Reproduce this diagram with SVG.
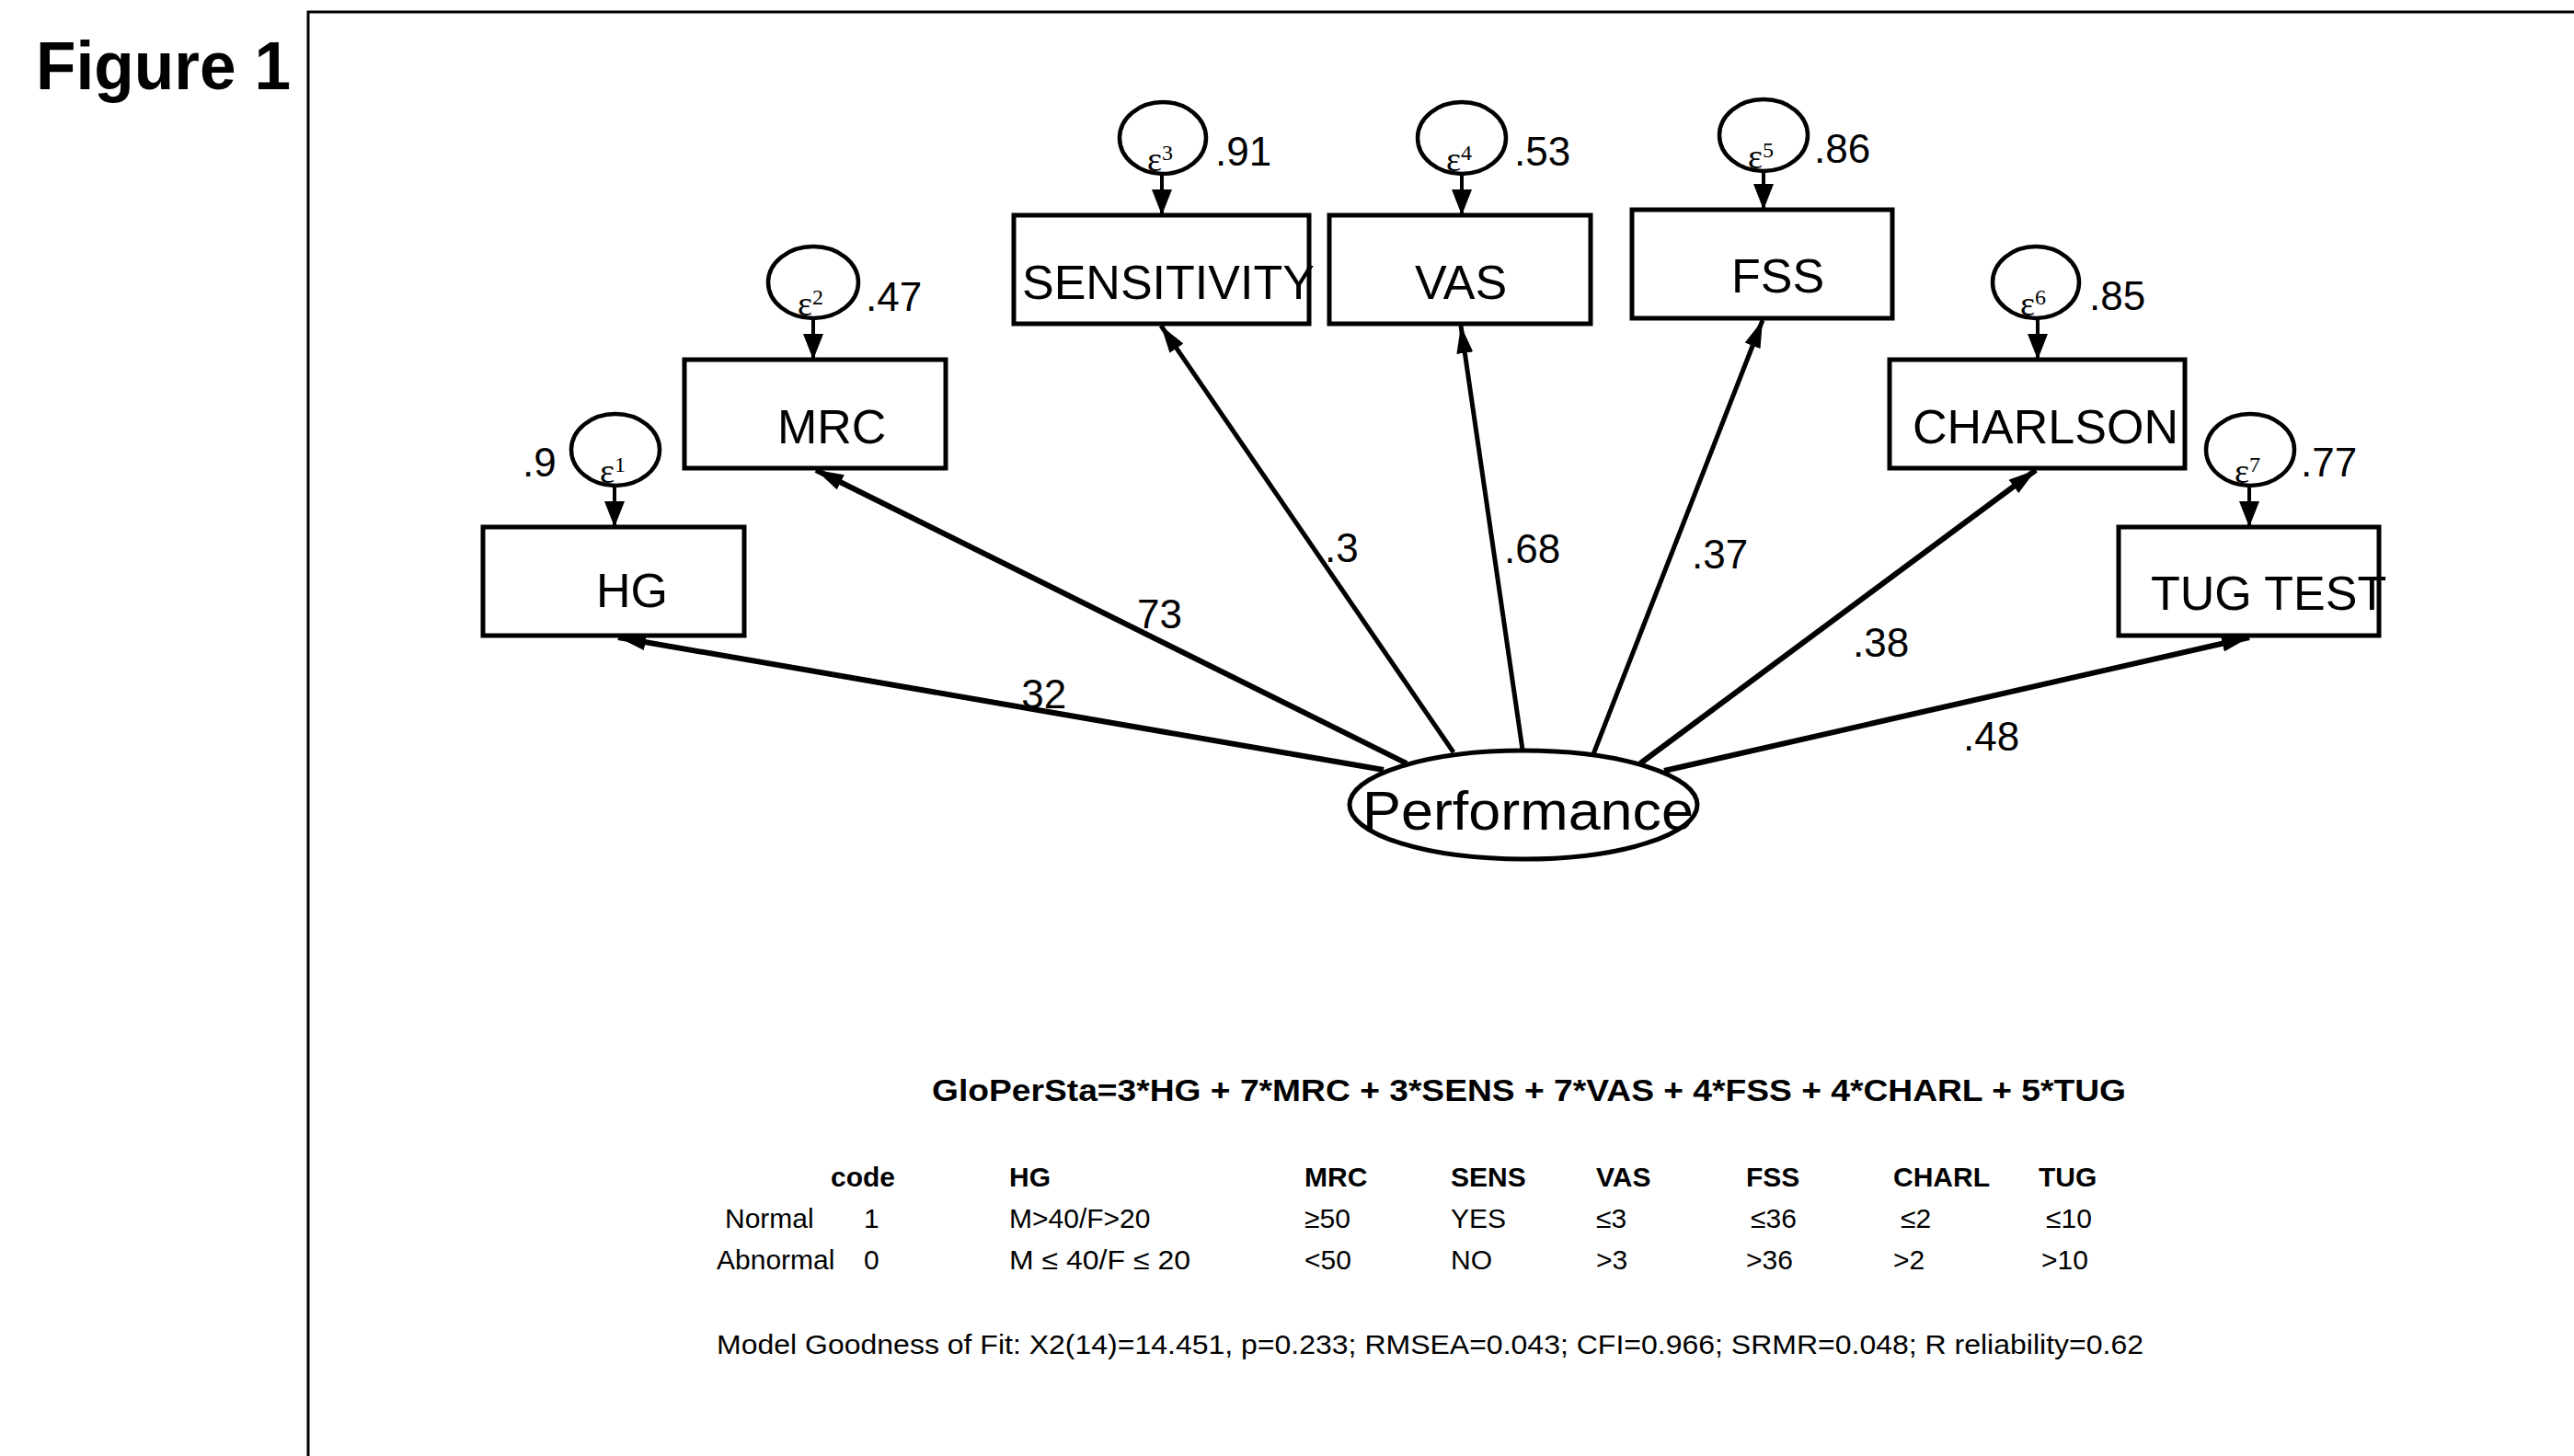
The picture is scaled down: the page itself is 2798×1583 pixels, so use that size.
<svg xmlns="http://www.w3.org/2000/svg" width="2798" height="1583" viewBox="0 0 2798 1583">
<style>
  text { font-family: "Liberation Sans", Arial, sans-serif; fill: #000; }
  .box { fill: #fff; stroke: #000; stroke-width: 5; }
  .err { fill: none; stroke: #000; stroke-width: 4.5; }
  .lat { fill: #fff; stroke: #000; stroke-width: 5; }
  .lbl { font-size: 52px; }
  .num { font-size: 44px; }
  .eps { font-family: "Liberation Serif", "Times New Roman", serif; font-size: 38px; }
  .epsd { font-size: 24px; }
  .conn { stroke: #000; fill: none; }
  .tbl { font-size: 30px; }
  .tblb { font-size: 30px; font-weight: bold; }
</style>
<defs>
  <marker id="ah" viewBox="0 0 30 18" markerWidth="30" markerHeight="18" refX="30" refY="9" orient="auto" markerUnits="userSpaceOnUse">
    <path d="M0,0 L30,9 L0,18 z" fill="#000"/>
  </marker>
  <marker id="ahe" viewBox="0 0 28 22" markerWidth="28" markerHeight="22" refX="28" refY="11" orient="auto" markerUnits="userSpaceOnUse">
    <path d="M0,0 L28,11 L0,22 z" fill="#000"/>
  </marker>
</defs>
<rect width="2798" height="1583" fill="#fff"/>

<!-- frame -->
<path d="M335,1583 L335,13 L2798,13" fill="none" stroke="#000" stroke-width="3"/>
<text x="39" y="97" font-size="75" font-weight="bold" textLength="277" lengthAdjust="spacingAndGlyphs">Figure 1</text>

<!-- connectors -->
<g id="connectors">
  <line class="conn" x1="1504" y1="837" x2="672" y2="693" stroke-width="6" marker-end="url(#ah)"/>
  <line class="conn" x1="1529" y1="830" x2="887" y2="511" stroke-width="6" marker-end="url(#ah)"/>
  <line class="conn" x1="1580" y1="818" x2="1262" y2="354" stroke-width="5" marker-end="url(#ah)"/>
  <line class="conn" x1="1655" y1="815" x2="1588" y2="354" stroke-width="5" marker-end="url(#ah)"/>
  <line class="conn" x1="1732" y1="820" x2="1916" y2="348" stroke-width="5" marker-end="url(#ah)"/>
  <line class="conn" x1="1783" y1="830" x2="2213" y2="511" stroke-width="6" marker-end="url(#ah)"/>
  <line class="conn" x1="1809" y1="838" x2="2445" y2="693" stroke-width="6" marker-end="url(#ah)"/>
  <!-- error arrows -->
  <line class="conn" x1="668" y1="528" x2="668" y2="573" stroke-width="4" marker-end="url(#ahe)"/>
  <line class="conn" x1="884" y1="346" x2="884" y2="391" stroke-width="4" marker-end="url(#ahe)"/>
  <line class="conn" x1="1263" y1="189" x2="1263" y2="234" stroke-width="4" marker-end="url(#ahe)"/>
  <line class="conn" x1="1589" y1="189" x2="1589" y2="234" stroke-width="4" marker-end="url(#ahe)"/>
  <line class="conn" x1="1917" y1="186" x2="1917" y2="228" stroke-width="4" marker-end="url(#ahe)"/>
  <line class="conn" x1="2215" y1="346" x2="2215" y2="391" stroke-width="4" marker-end="url(#ahe)"/>
  <line class="conn" x1="2445" y1="528" x2="2445" y2="573" stroke-width="4" marker-end="url(#ahe)"/>
  <!-- path coefficients -->
  <text class="num" x="1098" y="770">.32</text>
  <text class="num" x="1236" y="683">73</text>
  <text class="num" x="1440" y="611">.3</text>
  <text class="num" x="1635" y="612">.68</text>
  <text class="num" x="1839" y="618">.37</text>
  <text class="num" x="2014" y="714">.38</text>
  <text class="num" x="2134" y="816">.48</text>
</g>

<!-- observed nodes -->
<g id="node-hg">
  <rect class="box" x="525" y="573" width="284" height="118"/>
  <text class="lbl" x="648" y="660">HG</text>
  <ellipse class="err" cx="669" cy="489" rx="48" ry="39"/>
  <text class="eps" x="652" y="525">ε<tspan class="epsd" dy="-12">1</tspan></text>
  <text class="num" x="568" y="518">.9</text>
</g>
<g id="node-mrc">
  <rect class="box" x="744" y="391" width="284" height="118"/>
  <text class="lbl" x="845" y="482">MRC</text>
  <ellipse class="err" cx="884" cy="307" rx="49" ry="39"/>
  <text class="eps" x="867" y="343">ε<tspan class="epsd" dy="-12">2</tspan></text>
  <text class="num" x="941" y="338">.47</text>
</g>
<g id="node-sensitivity">
  <rect class="box" x="1102" y="234" width="321" height="118"/>
  <text class="lbl" x="1111" y="325">SENSITIVITY</text>
  <ellipse class="err" cx="1264" cy="150" rx="47" ry="39"/>
  <text class="eps" x="1247" y="186">ε<tspan class="epsd" dy="-12">3</tspan></text>
  <text class="num" x="1321" y="180">.91</text>
</g>
<g id="node-vas">
  <rect class="box" x="1445" y="234" width="284" height="118"/>
  <text class="lbl" x="1538" y="325">VAS</text>
  <ellipse class="err" cx="1589" cy="150" rx="48" ry="39"/>
  <text class="eps" x="1572" y="186">ε<tspan class="epsd" dy="-12">4</tspan></text>
  <text class="num" x="1646" y="180">.53</text>
</g>
<g id="node-fss">
  <rect class="box" x="1774" y="228" width="283" height="118"/>
  <text class="lbl" x="1882" y="318">FSS</text>
  <ellipse class="err" cx="1917" cy="147" rx="48" ry="39"/>
  <text class="eps" x="1900" y="183">ε<tspan class="epsd" dy="-12">5</tspan></text>
  <text class="num" x="1972" y="177">.86</text>
</g>
<g id="node-charlson">
  <rect class="box" x="2054" y="391" width="321" height="118"/>
  <text class="lbl" x="2079" y="482">CHARLSON</text>
  <ellipse class="err" cx="2213" cy="307" rx="47" ry="39"/>
  <text class="eps" x="2196" y="343">ε<tspan class="epsd" dy="-12">6</tspan></text>
  <text class="num" x="2271" y="337">.85</text>
</g>
<g id="node-tug">
  <rect class="box" x="2303" y="573" width="283" height="118"/>
  <text class="lbl" x="2338" y="663">TUG TEST</text>
  <ellipse class="err" cx="2446" cy="489" rx="48" ry="39"/>
  <text class="eps" x="2429" y="525">ε<tspan class="epsd" dy="-12">7</tspan></text>
  <text class="num" x="2501" y="518">.77</text>
</g>

<!-- latent -->
<g id="node-performance">
  <ellipse class="lat" cx="1656" cy="875" rx="189" ry="59"/>
  <text x="1481" y="902" font-size="60" textLength="360" lengthAdjust="spacingAndGlyphs">Performance</text>
</g>

<!-- formula and table -->
<g id="formula">
  <text x="1013" y="1197" font-size="34" font-weight="bold" textLength="1298" lengthAdjust="spacingAndGlyphs">GloPerSta=3*HG + 7*MRC + 3*SENS + 7*VAS + 4*FSS + 4*CHARL + 5*TUG</text>
</g>
<g id="table">
  <text class="tblb" x="903" y="1290">code</text>
  <text class="tblb" x="1097" y="1290">HG</text>
  <text class="tblb" x="1418" y="1290">MRC</text>
  <text class="tblb" x="1577" y="1290">SENS</text>
  <text class="tblb" x="1735" y="1290">VAS</text>
  <text class="tblb" x="1898" y="1290">FSS</text>
  <text class="tblb" x="2058" y="1290">CHARL</text>
  <text class="tblb" x="2216" y="1290">TUG</text>

  <text class="tbl" x="788" y="1335">Normal</text>
  <text class="tbl" x="939" y="1335">1</text>
  <text class="tbl" x="1097" y="1335">M&gt;40/F&gt;20</text>
  <text class="tbl" x="1418" y="1335">≥50</text>
  <text class="tbl" x="1577" y="1335">YES</text>
  <text class="tbl" x="1735" y="1335">≤3</text>
  <text class="tbl" x="1903" y="1335">≤36</text>
  <text class="tbl" x="2066" y="1335">≤2</text>
  <text class="tbl" x="2224" y="1335">≤10</text>

  <text class="tbl" x="779" y="1380">Abnormal</text>
  <text class="tbl" x="939" y="1380">0</text>
  <text class="tbl" x="1097" y="1380" textLength="197" lengthAdjust="spacingAndGlyphs">M ≤ 40/F ≤ 20</text>
  <text class="tbl" x="1418" y="1380">&lt;50</text>
  <text class="tbl" x="1577" y="1380">NO</text>
  <text class="tbl" x="1735" y="1380">&gt;3</text>
  <text class="tbl" x="1898" y="1380">&gt;36</text>
  <text class="tbl" x="2058" y="1380">&gt;2</text>
  <text class="tbl" x="2219" y="1380">&gt;10</text>
</g>
<g id="fit">
  <text class="tbl" x="779" y="1472" textLength="1551" lengthAdjust="spacingAndGlyphs">Model Goodness of Fit: X2(14)=14.451, p=0.233; RMSEA=0.043; CFI=0.966; SRMR=0.048; R reliability=0.62</text>
</g>
</svg>
